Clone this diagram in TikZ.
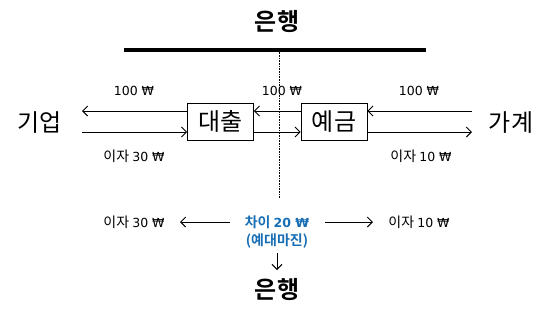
\documentclass[tikz,border=0pt]{standalone}
\usepackage{fontspec}
\usetikzlibrary{arrows.meta}
\setmainfont{Noto Sans CJK KR}
\newfontfamily\krb{Noto Sans CJK KR Bold}
\newfontfamily\lat{DejaVu Sans}
\newcommand{\num}[1]{{\lat\fontsize{12.5}{15}\selectfont #1}}
\definecolor{bankblue}{RGB}{23,110,180}
\begin{document}
\begin{tikzpicture}[x=1pt,y=-1pt,
  big/.style={font=\fontsize{24}{26}\selectfont, inner sep=0pt},
  bigb/.style={font=\krb\fontsize{24}{26}\selectfont, inner sep=0pt},
  lbl/.style={font=\fontsize{14}{16}\selectfont, inner sep=0pt},
  bluelbl/.style={font=\krb\fontsize{14}{16}\selectfont, text=bankblue, inner sep=0pt},
  box/.style={draw, line width=0.9pt, minimum width=66pt, minimum height=37pt, inner sep=0pt, font=\fontsize{24}{26}\selectfont},
  arr/.style={line width=0.9pt, -{Straight Barb[length=5pt,width=10pt]}}
]
\useasboundingbox (0,0) rectangle (550,319);
% top bank
\node[bigb] (bank1) at (277,22) {은행};
\coordinate (barL) at (124,50);
\coordinate (barR) at (426,50);
\draw[line width=3.5pt] (barL) -- (barR);
\coordinate (dotT) at (279,50);
\coordinate (dotB) at (279,198);
\draw[densely dotted, line width=0.6pt] (dotT) -- (dotB);
% parties
\node[big] (firm) at (40,123) {기업};
\node[big] (house) at (511,123) {가계};
% boxes
\node[box] (loan) at (220.5,121.5) {대출};
\node[box] (dep) at (334,121.5) {예금};
% arrows
\coordinate (firmT) at (82,111);
\coordinate (firmB) at (82,132);
\coordinate (houseT) at (472,111);
\coordinate (houseB) at (472,132);
\draw[arr] (loan.west |- firmT) -- (firmT);
\draw[arr] (firmB) -- (loan.west |- firmB);
\draw[arr] (dep.west |- firmT) -- (loan.east |- firmT);
\draw[arr] (loan.east |- firmB) -- (dep.west |- firmB);
\draw[arr] (houseT) -- (dep.east |- houseT);
\draw[arr] (dep.east |- houseB) -- (houseB);
% labels
\node[lbl] (l100a) at (134,91) {\num{100 ₩}};
\node[lbl] (l100b) at (282,91) {\num{100 ₩}};
\node[lbl] (l100c) at (419,91) {\num{100 ₩}};
\node[lbl] (i30a) at (134,156) {이자 \num{30 ₩}};
\node[lbl] (i10a) at (421,156) {이자 \num{10 ₩}};
% bottom
\node[lbl] (i30b) at (134,222) {이자 \num{30 ₩}};
\node[lbl] (i10b) at (419,222) {이자 \num{10 ₩}};
\node[bluelbl] (diff) at (277,222) {차이 {\lat\bfseries\fontsize{12.5}{15}\selectfont 20 ₩}};
\node[bluelbl] (margin) at (277,241) {(예대마진)};
\coordinate (la) at (230,222);
\coordinate (ra) at (325,222);
\coordinate (lb) at (180,222);
\coordinate (rb) at (373,222);
\draw[arr] (la) -- (lb);
\draw[arr] (ra) -- (rb);
\node[bigb] (bank2) at (277,290) {은행};
\coordinate (dA) at (277,253);
\coordinate (dB) at (277,270);
\draw[arr] (dA) -- (dB);
\end{tikzpicture}
\end{document}
